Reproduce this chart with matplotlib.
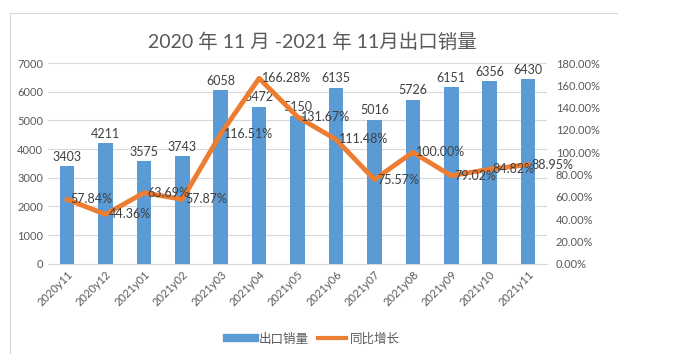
import matplotlib
matplotlib.use("Agg")
import matplotlib.pyplot as plt
from matplotlib.lines import Line2D
import numpy as np

plt.rcParams['font.family'] = ['Lato', 'Noto Sans CJK SC', 'DejaVu Sans']

categories = ["2020y11", "2020y12", "2021y01", "2021y02", "2021y03", "2021y04", "2021y05",
              "2021y06", "2021y07", "2021y08", "2021y09", "2021y10", "2021y11"]
exports = [3403, 4211, 3575, 3743, 6058, 5472, 5150, 6135, 5016, 5726, 6151, 6356, 6430]
growth = [57.84, 44.36, 63.69, 57.87, 116.51, 166.28, 131.67, 111.48, 75.57, 100.00, 79.02, 84.82, 88.95]
title = "2020 年 11 月 -2021 年 11月出口销量"
bar_name = "出口销量"
line_name = "同比增长"

blue = "#5B9BD5"
orange = "#ED7D31"
txt = "#595959"

fig = plt.figure(figsize=(6.74, 3.6), dpi=100)
ax = fig.add_axes([0.071, 0.267, 0.741, 0.558])
x = np.arange(len(categories))
ax.bar(x, exports, width=0.38, color=blue, zorder=2)
ax.set_ylim(0, 7000)
ax.set_yticks(np.arange(0, 7001, 1000))
ax.set_xlim(-0.5, len(categories) - 0.5)
ax.grid(axis='y', color="#D9D9D9", linewidth=0.8, zorder=0)
for s in ['top', 'right', 'left']:
    ax.spines[s].set_visible(False)
ax.spines['bottom'].set_color("#D9D9D9")
ax.tick_params(axis='both', length=0, colors=txt, labelsize=8)
ax.set_xticks(x)
ax.set_xticklabels(categories, rotation=45, ha='right', rotation_mode='anchor', fontsize=8)
for xi, v in zip(x, exports):
    ax.text(xi, v + 120, str(v), ha='center', va='bottom', fontsize=9, color="#404040", zorder=5)

ax2 = ax.twinx()
ax2.plot(x, growth, color=orange, linewidth=3.5, zorder=3)
ax2.set_ylim(0, 180)
ax2.set_yticks(np.arange(0, 181, 20))
ax2.set_yticklabels([f"{t:.2f}%" for t in np.arange(0, 181, 20)])
for s in ['top', 'right', 'left', 'bottom']:
    ax2.spines[s].set_visible(False)
ax2.tick_params(axis='y', length=0, colors=txt, labelsize=8, pad=6)
for xi, g in zip(x, growth):
    ax2.text(xi + 0.08, g, f"{g:.2f}%", ha='left', va='center', fontsize=9, color="#404040", zorder=5)

fig.text(0.463, 0.885, title, ha='center', va='center', fontsize=14, color=txt)

handles = [Line2D([0], [0], color=blue, linewidth=6), Line2D([0], [0], color=orange, linewidth=3)]
fig.legend(handles, [bar_name, line_name], loc='center', bbox_to_anchor=(0.465, 0.06), ncol=2,
           frameon=False, fontsize=9, labelcolor=txt, handlelength=2.2, columnspacing=0.8, handletextpad=0.3)

fig.add_artist(Line2D([0.015, 0.015], [0.02, 0.965], color="#D9D9D9", linewidth=0.8, transform=fig.transFigure))
fig.add_artist(Line2D([0.015, 0.915], [0.965, 0.965], color="#D9D9D9", linewidth=0.8, transform=fig.transFigure))

fig.savefig("out.png", dpi=100, facecolor='white')
